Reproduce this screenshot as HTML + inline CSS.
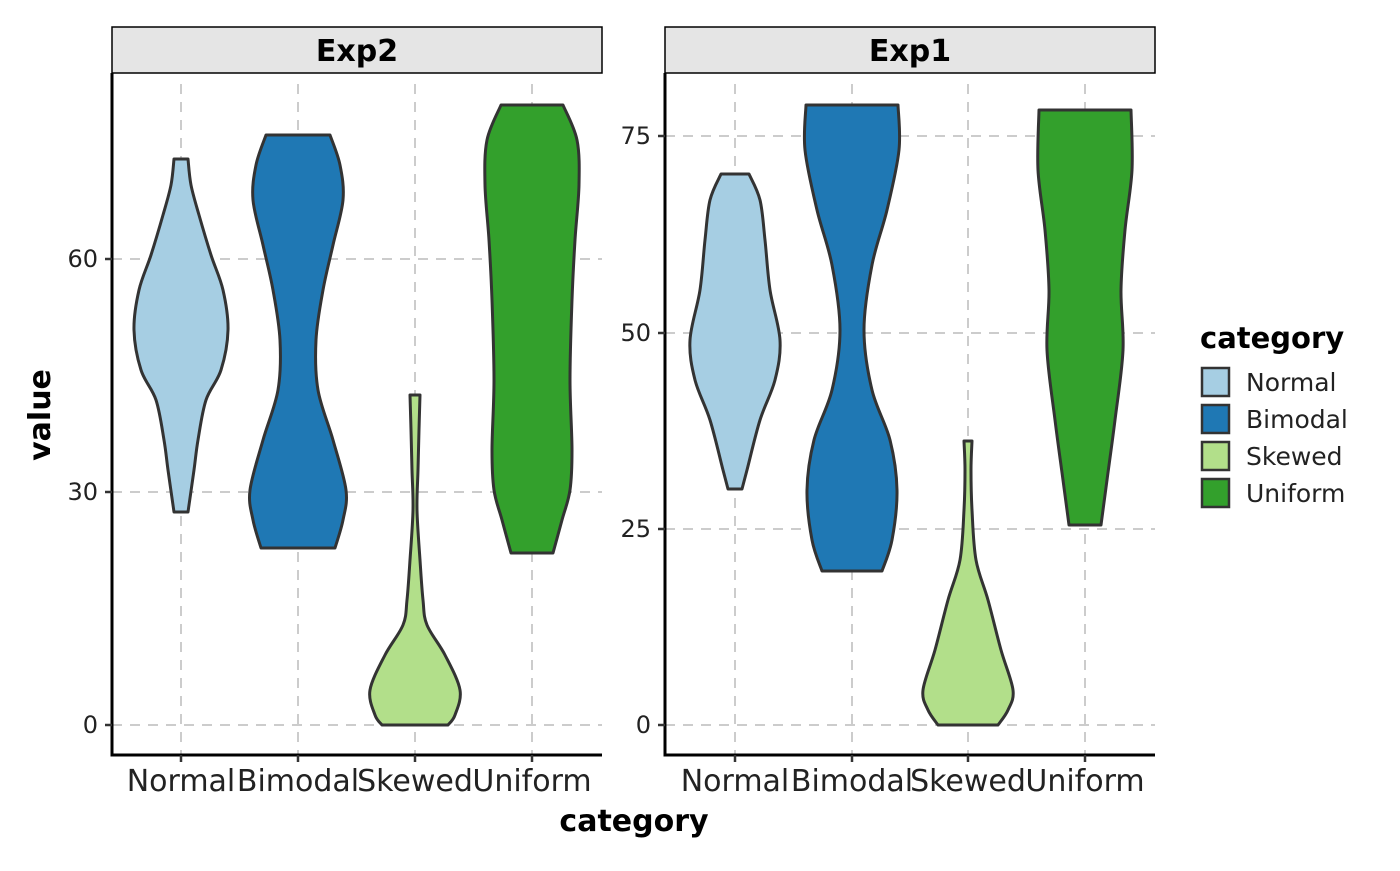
<!DOCTYPE html>
<html><head><meta charset="utf-8"><style>
html,body{margin:0;padding:0;background:#fff;}
svg text{font-family:"DejaVu Sans","Liberation Sans",sans-serif;}
</style></head><body>
<svg id="s" width="1400" height="866" viewBox="0 0 1400 866" xmlns="http://www.w3.org/2000/svg">
<g stroke="#cccccc" stroke-width="2" stroke-dasharray="10,8" fill="none">
<line x1="181" y1="84" x2="181" y2="755"/><line x1="298" y1="84" x2="298" y2="755"/>
<line x1="415" y1="84" x2="415" y2="755"/><line x1="532" y1="84" x2="532" y2="755"/>
<line x1="112" y1="725" x2="602" y2="725"/><line x1="112" y1="492" x2="602" y2="492"/><line x1="112" y1="259" x2="602" y2="259"/>
<line x1="735" y1="84" x2="735" y2="755"/><line x1="852" y1="84" x2="852" y2="755"/>
<line x1="968" y1="84" x2="968" y2="755"/><line x1="1085" y1="84" x2="1085" y2="755"/>
<line x1="665" y1="725" x2="1155" y2="725"/><line x1="665" y1="529" x2="1155" y2="529"/><line x1="665" y1="333" x2="1155" y2="333"/><line x1="665" y1="136" x2="1155" y2="136"/>
</g>
<g id="v" stroke="#333" stroke-width="3" stroke-linejoin="round"></g>
<rect x="112" y="27" width="490" height="46" fill="#e5e5e5" stroke="#000" stroke-width="1.5"/>
<rect x="665" y="27" width="490" height="46" fill="#e5e5e5" stroke="#000" stroke-width="1.5"/>
<text x="357" y="61" font-size="30" font-weight="bold" text-anchor="middle">Exp2</text>
<text x="910" y="61" font-size="30" font-weight="bold" text-anchor="middle">Exp1</text>
<g stroke="#000" stroke-width="3" fill="none">
<polyline points="112,73 112,755 602,755"/><polyline points="665,73 665,755 1155,755"/>
</g>
<g stroke="#333" stroke-width="2.5">
<line x1="105" y1="725" x2="112" y2="725"/><line x1="105" y1="492" x2="112" y2="492"/><line x1="105" y1="259" x2="112" y2="259"/>
<line x1="658" y1="725" x2="665" y2="725"/><line x1="658" y1="529" x2="665" y2="529"/><line x1="658" y1="333" x2="665" y2="333"/><line x1="658" y1="136" x2="665" y2="136"/>
<line x1="181" y1="755" x2="181" y2="762"/><line x1="298" y1="755" x2="298" y2="762"/><line x1="415" y1="755" x2="415" y2="762"/><line x1="532" y1="755" x2="532" y2="762"/>
<line x1="735" y1="755" x2="735" y2="762"/><line x1="852" y1="755" x2="852" y2="762"/><line x1="968" y1="755" x2="968" y2="762"/><line x1="1085" y1="755" x2="1085" y2="762"/>
</g>
<g font-size="24" text-anchor="end" fill="#222">
<text x="98" y="733">0</text><text x="98" y="500">30</text><text x="98" y="267">60</text>
<text x="651" y="733">0</text><text x="651" y="537">25</text><text x="651" y="341">50</text><text x="651" y="144">75</text>
</g>
<g font-size="30" text-anchor="middle" fill="#222">
<text x="181" y="791">Normal</text><text x="298" y="791">Bimodal</text><text x="415" y="791">Skewed</text><text x="532" y="791">Uniform</text>
<text x="735" y="791">Normal</text><text x="852" y="791">Bimodal</text><text x="968" y="791">Skewed</text><text x="1085" y="791">Uniform</text>
</g>
<text x="634" y="831" font-size="30" font-weight="bold" text-anchor="middle">category</text>
<text transform="translate(50,415) rotate(-90)" font-size="30" font-weight="bold" text-anchor="middle">value</text>
<text x="1200" y="348" font-size="29" font-weight="bold">category</text>
<g stroke="#333" stroke-width="2.5">
<rect x="1202" y="368" width="27" height="28" fill="#a6cee3"/>
<rect x="1202" y="405" width="27" height="28" fill="#1f78b4"/>
<rect x="1202" y="442" width="27" height="28" fill="#b2df8a"/>
<rect x="1202" y="479" width="27" height="28" fill="#33a02c"/>
</g>
<g font-size="25" fill="#222">
<text x="1246" y="391">Normal</text><text x="1246" y="428">Bimodal</text><text x="1246" y="465">Skewed</text><text x="1246" y="502">Uniform</text>
</g>
</svg>
<script>
var V=[
[181,"#a6cee3",[[7,159],[10,185],[18,215],[30,255],[42,290],[47,330],[40,370],[25,400],[17,440],[13,470],[7,512]]],
[298,"#1f78b4",[[32,135],[42,165],[45,200],[35,245],[25,290],[18,340],[20,390],[35,440],[48,490],[45,520],[37,548]]],
[415,"#b2df8a",[[5,395],[4,430],[3,470],[2,510],[5,560],[8,600],[12,625],[30,655],[45,690],[40,715],[33,725]]],
[532,"#33a02c",[[31,105],[45,140],[47,185],[43,240],[40,300],[38,380],[40,450],[38,490],[30,520],[21,553]]],
[735,"#a6cee3",[[14,174],[25,200],[30,240],[35,290],[45,340],[40,380],[25,420],[12,470],[7,489]]],
[852,"#1f78b4",[[46,105],[47,150],[35,210],[20,265],[12,330],[20,390],[38,440],[45,490],[40,540],[30,571]]],
[968,"#b2df8a",[[4,441],[3,470],[4,510],[8,560],[20,600],[33,650],[45,690],[40,710],[30,725]]],
[1085,"#33a02c",[[46,110],[47,170],[40,230],[36,290],[38,350],[30,420],[22,480],[16,525]]]];
var g=document.getElementById("v"),h="";
function sm(p){var d="M"+p[0][0]+","+p[0][1];for(var i=0;i<p.length-1;i++){var a=p[i-1]||p[i],b=p[i],c=p[i+1],e=p[i+2]||c;
d+=" C"+(b[0]+(c[0]-a[0])/6)+","+(b[1]+(c[1]-a[1])/6)+" "+(c[0]-(e[0]-b[0])/6)+","+(c[1]-(e[1]-b[1])/6)+" "+c[0]+","+c[1];}return d;}
V.forEach(function(v){var cx=v[0],R=v[2].map(function(p){return [cx+p[0],p[1]]}),L=v[2].slice().reverse().map(function(p){return [cx-p[0],p[1]]});
var d=sm(R);var l=sm(L);d+=" L"+L[0][0]+","+L[0][1]+l.replace(/^M[^ ]+/,"")+" Z";
h+='<path d="'+d+'" fill="'+v[1]+'"/>';});
g.innerHTML=h;
</script>
</body></html>
